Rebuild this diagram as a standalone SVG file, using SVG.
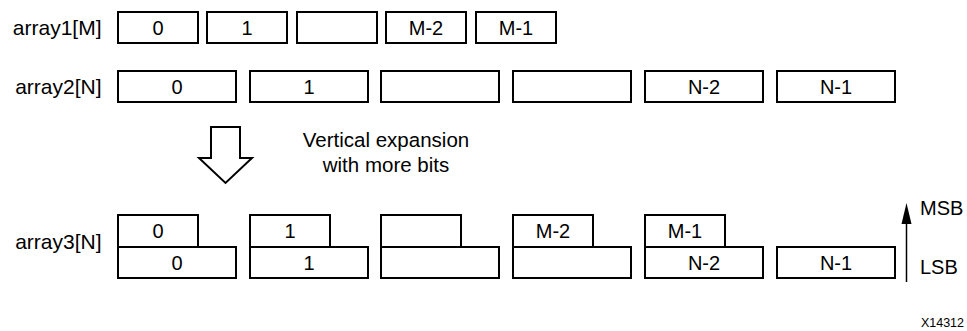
<svg xmlns="http://www.w3.org/2000/svg" width="967" height="331" viewBox="0 0 967 331">
<style>
.box{fill:#fff;stroke:#000;stroke-width:2}
.t{font-family:"Liberation Sans",Arial,sans-serif;font-size:20px;fill:#000;text-anchor:middle}
.lbl{font-family:"Liberation Sans",Arial,sans-serif;font-size:21px;fill:#000;text-anchor:end}
.cap{font-family:"Liberation Sans",Arial,sans-serif;font-size:20.5px;fill:#000;text-anchor:middle}
.side{font-family:"Liberation Sans",Arial,sans-serif;font-size:20px;fill:#000}
</style>
<defs>
<marker id="ah" markerWidth="10" markerHeight="20" refX="5" refY="1" orient="auto-start-reverse" markerUnits="userSpaceOnUse" viewBox="0 0 10 20">
<path d="M0,20 L5,0 L10,20 Z" fill="#000" transform="rotate(0)"/>
</marker>
</defs>
<rect width="967" height="331" fill="#fff"/>

<g id="array1">
<text class="lbl" x="101.5" y="35">array1[M]</text>
<g id="a1_0"><rect class="box" x="118" y="12" width="80" height="31"/><text class="t" x="158" y="34.5">0</text></g>
<g id="a1_1"><rect class="box" x="207" y="12" width="80" height="31"/><text class="t" x="247" y="34.5">1</text></g>
<g id="a1_2"><rect class="box" x="297" y="12" width="80" height="31"/></g>
<g id="a1_m2"><rect class="box" x="386" y="12" width="80" height="31"/><text class="t" x="426" y="34.5">M-2</text></g>
<g id="a1_m1"><rect class="box" x="476" y="12" width="80" height="31"/><text class="t" x="516" y="34.5">M-1</text></g>
</g>

<g id="array2">
<text class="lbl" x="101.5" y="93.5">array2[N]</text>
<g id="a2_0"><rect class="box" x="118" y="71" width="118" height="31"/><text class="t" x="177" y="93.5">0</text></g>
<g id="a2_1"><rect class="box" x="250" y="71" width="118" height="31"/><text class="t" x="309" y="93.5">1</text></g>
<g id="a2_2"><rect class="box" x="381" y="71" width="118" height="31"/></g>
<g id="a2_3"><rect class="box" x="513" y="71" width="118" height="31"/></g>
<g id="a2_n2"><rect class="box" x="645" y="71" width="118" height="31"/><text class="t" x="704" y="93.5">N-2</text></g>
<g id="a2_n1"><rect class="box" x="777" y="71" width="118" height="31"/><text class="t" x="836" y="93.5">N-1</text></g>
</g>

<g id="expand">
<polygon points="211,127 240,127 240,158 252,158 225.5,183 199,158 211,158" fill="#fff" stroke="#000" stroke-width="2" stroke-linejoin="miter"/>
<text class="cap" x="386" y="146.5">Vertical expansion</text>
<text class="cap" x="386" y="171.5">with more bits</text>
</g>

<g id="array3">
<text class="lbl" x="101.5" y="249">array3[N]</text>
<g id="a3_0"><rect class="box" x="118" y="247" width="118" height="31"/><text class="t" x="177" y="269.5">0</text><rect class="box" x="118" y="215" width="80" height="32"/><text class="t" x="158" y="237.5">0</text></g>
<g id="a3_1"><rect class="box" x="250" y="247" width="118" height="31"/><text class="t" x="309" y="269.5">1</text><rect class="box" x="250" y="215" width="80" height="32"/><text class="t" x="290" y="237.5">1</text></g>
<g id="a3_2"><rect class="box" x="381" y="247" width="118" height="31"/><rect class="box" x="381" y="215" width="80" height="32"/></g>
<g id="a3_3"><rect class="box" x="513" y="247" width="118" height="31"/><rect class="box" x="513" y="215" width="80" height="32"/><text class="t" x="553" y="237.5">M-2</text></g>
<g id="a3_4"><rect class="box" x="645" y="247" width="118" height="31"/><text class="t" x="704" y="269.5">N-2</text><rect class="box" x="645" y="215" width="80" height="32"/><text class="t" x="685" y="237.5">M-1</text></g>
<g id="a3_5"><rect class="box" x="777" y="247" width="118" height="31"/><text class="t" x="836" y="269.5">N-1</text></g>
</g>

<g id="connectors">
<line x1="906.5" y1="282" x2="906.5" y2="222" stroke="#000" stroke-width="1.5"/>
<polygon points="906.5,203 911.5,224 901.5,224" fill="#000"/>
</g>

<g id="bit-labels">
<text class="side" x="920" y="215">MSB</text>
<text class="side" x="920" y="273.5">LSB</text>
<text x="964" y="326.5" font-family="Liberation Sans, Arial, sans-serif" font-size="12.5" text-anchor="end" fill="#000">X14312</text>
</g>
</svg>
